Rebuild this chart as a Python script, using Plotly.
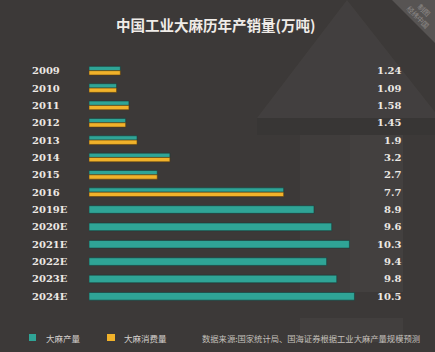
import plotly.graph_objects as go

# ---- data ----
categories = ["2009", "2010", "2011", "2012", "2013", "2014", "2015", "2016",
              "2019E", "2020E", "2021E", "2022E", "2023E", "2024E"]
production = [1.24, 1.09, 1.58, 1.45, 1.9, 3.2, 2.7, 7.7,
              8.9, 9.6, 10.3, 9.4, 9.8, 10.5]
consumption = [1.24, 1.09, 1.58, 1.45, 1.9, 3.2, 2.7, 7.7,
               None, None, None, None, None, None]
value_labels = ["1.24", "1.09", "1.58", "1.45", "1.9", "3.2", "2.7", "7.7",
                "8.9", "9.6", "10.3", "9.4", "9.8", "10.5"]
series_names = ["大麻产量", "大麻消费量"]
title_text = "中国工业大麻历年产销量(万吨)"
source_text = "数据来源:国家统计局、国海证券根据工业大麻产量规模预测"

# ---- layout geometry ----
W, H = 435, 352
ML, MR, MT, MB = 89, 30, 62, 47
PW, PH = W - ML - MR, H - MT - MB

def px(x):
    return (x - ML) / PW

def py(y):
    return (H - MB - y) / PH

TEAL = "#2fa496"
YELLOW = "#f1b22a"
BG = "#3c3938"
LABEL = "#ece8e4"

has_cons = [c is not None for c in consumption]
prod_width = [0.25 if h else 0.44 for h in has_cons]
prod_offset = [-0.25 if h else -0.22 for h in has_cons]

fig = go.Figure()
fig.add_trace(go.Bar(
    y=categories, x=production, orientation="h", name=series_names[0],
    width=prod_width, offset=prod_offset,
    marker=dict(color=TEAL, line=dict(color="rgba(20,60,55,0.7)", width=0.8)),
    showlegend=False, hoverinfo="x+y",
))
fig.add_trace(go.Bar(
    y=categories, x=consumption, orientation="h", name=series_names[1],
    width=0.25, offset=0,
    marker=dict(color=YELLOW, line=dict(color="rgba(90,60,10,0.7)", width=0.8)),
    showlegend=False, hoverinfo="x+y",
))

shapes = []
def poly(points, color, layer="below"):
    path = "M " + " L ".join(f"{px(x):.5f},{py(y):.5f}" for x, y in points) + " Z"
    shapes.append(dict(type="path", path=path, xref="paper", yref="paper",
                       fillcolor=color, line=dict(width=0), layer=layer))

def rect(x0, y0, x1, y1, color, layer="below"):
    shapes.append(dict(type="rect", xref="paper", yref="paper",
                       x0=px(x0), x1=px(x1), y0=py(y1), y1=py(y0),
                       fillcolor=color, line=dict(width=0), layer=layer))

# background decorations (subtle)
poly([(347, 0), (257, 118), (435, 118), (435, 112)], "rgba(255,255,255,0.035)")
rect(257, 118, 435, 135, "rgba(0,0,0,0.05)")
rect(300, 135, 403, 292, "rgba(255,255,255,0.025)")
rect(350, 135, 403, 292, "rgba(255,255,255,0.015)")
rect(300, 318, 403, 342, "rgba(255,255,255,0.03)")
poly([(392, 0), (435, 0), (435, 43)], "#575453")

annotations = []
for i, (cat, lab) in enumerate(zip(categories, value_labels)):
    annotations.append(dict(x=px(403), xref="paper", y=i, yref="y",
                            text=lab, showarrow=False, xanchor="right", yanchor="middle",
                            font=dict(family="DejaVu Serif", size=10, color=LABEL, weight="bold")))
    annotations.append(dict(x=px(30), xref="paper", y=i, yref="y",
                            text=cat, showarrow=False, xanchor="left", yanchor="middle",
                            font=dict(family="DejaVu Serif", size=10, color=LABEL, weight="bold")))

# title
annotations.append(dict(x=px(215), y=py(25), xref="paper", yref="paper", text=title_text,
                        showarrow=False, xanchor="center", yanchor="middle",
                        font=dict(family="Noto Sans CJK SC", size=14.5, color="#f0ece8", weight="bold")))

# watermark
annotations.append(dict(x=px(424), y=py(10), xref="paper", yref="paper", text="制图",
                        showarrow=False, textangle=45, xanchor="center", yanchor="middle",
                        font=dict(family="Noto Sans CJK SC", size=7, color="#8f8b89")))
annotations.append(dict(x=px(418), y=py(17), xref="paper", yref="paper", text="经纬中国",
                        showarrow=False, textangle=45, xanchor="center", yanchor="middle",
                        font=dict(family="Noto Sans CJK SC", size=7, color="#8f8b89")))

# legend
rect(29, 334, 36, 341, TEAL, layer="above")
rect(107, 334, 115, 341, YELLOW, layer="above")
annotations.append(dict(x=px(44), y=py(337.5), xref="paper", yref="paper", text=series_names[0],
                        showarrow=False, xanchor="left", yanchor="middle",
                        font=dict(family="Noto Sans CJK SC", size=8.5, color="#d4d0cc")))
annotations.append(dict(x=px(122), y=py(337.5), xref="paper", yref="paper", text=series_names[1],
                        showarrow=False, xanchor="left", yanchor="middle",
                        font=dict(family="Noto Sans CJK SC", size=8.5, color="#d4d0cc")))
annotations.append(dict(x=px(200), y=py(337.5), xref="paper", yref="paper", text=source_text,
                        showarrow=False, xanchor="left", yanchor="middle",
                        font=dict(family="Noto Sans CJK SC", size=8.3, color="#c4c0bc")))

fig.update_layout(
    width=W, height=H,
    margin=dict(l=ML, r=MR, t=MT, b=MB, pad=0),
    paper_bgcolor=BG, plot_bgcolor="rgba(0,0,0,0)",
    barmode="overlay",
    xaxis=dict(range=[0, 12.5], visible=False, fixedrange=True),
    yaxis=dict(type="category", categoryorder="array", categoryarray=categories,
               range=[len(categories) - 0.5, -0.5], showticklabels=False,
               showgrid=False, zeroline=False, showline=False, ticks="", fixedrange=True),
    shapes=shapes, annotations=annotations,
    showlegend=False,
)

fig.write_html("out.html", config={"displayModeBar": False})
